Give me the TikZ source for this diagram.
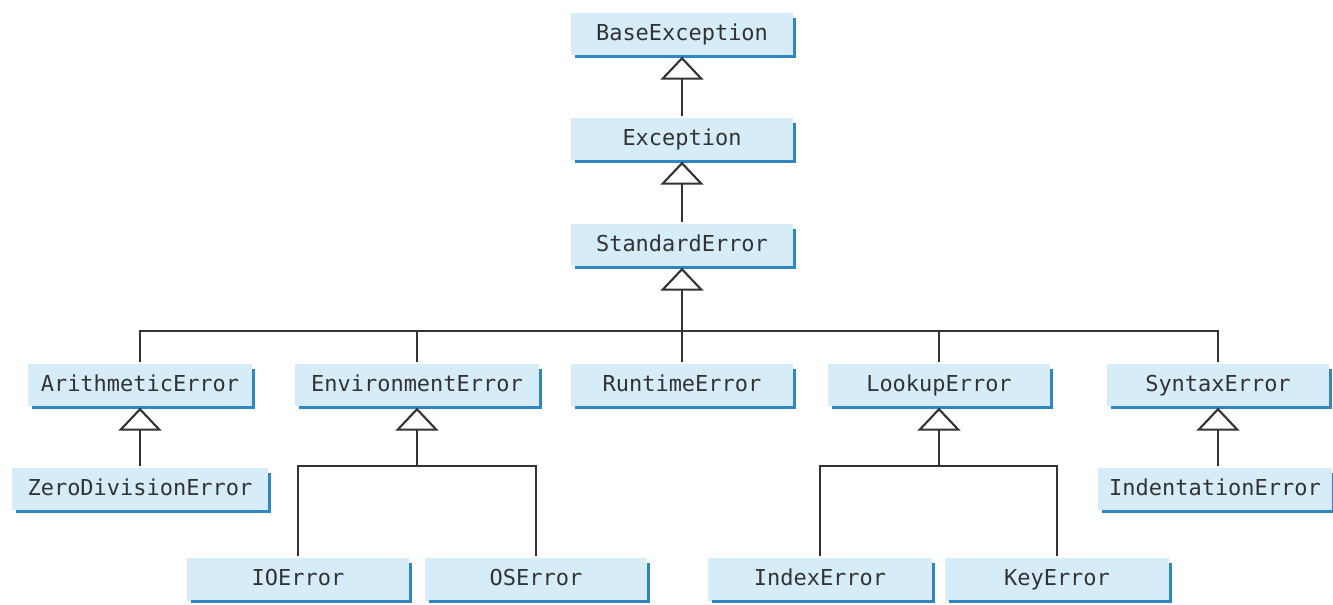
\documentclass[tikz,border=0pt]{standalone}
\usepackage{fontspec}
\setmonofont{DejaVu Sans Mono}
\usepackage{tikz}
\usetikzlibrary{positioning,arrows.meta}
\definecolor{boxfill}{HTML}{D6ECF8}
\definecolor{boxedge}{HTML}{2F86C0}
\definecolor{ink}{HTML}{333333}
\tikzset{
  cls/.style={fill=boxfill, inner sep=0pt, minimum height=0.86cm,
    text height=1.9ex, text depth=0.2ex,
    text=ink, font=\ttfamily\fontsize{12.5}{14}\selectfont},
  inherit/.style={-{Triangle[open, length=0.46cm, width=0.86cm, line width=1.2pt]}},
  edge/.style={draw=boxedge, line width=1.7pt}
}

\begin{document}
\begin{tikzpicture}[x=0.02cm, y=-0.02cm, line width=1.35pt, draw=ink]
		\useasboundingbox (0,0) rectangle (1333,605);

		% the root chain
		\node[cls, minimum width=4.46cm] (base) at (682,34) {BaseException};
		\node[cls, minimum width=4.46cm] (exc) at (682,139) {Exception};
		\node[cls, minimum width=4.46cm] (std) at (682,245) {StandardError};

		% second row
		\node[cls, minimum width=4.48cm] (arith) at (140,385) {ArithmeticError};
		\node[cls, minimum width=4.90cm] (env) at (417,385) {EnvironmentError};
		\node[cls, minimum width=4.46cm] (rt) at (682,385) {RuntimeError};
		\node[cls, minimum width=4.44cm] (look) at (939,385) {LookupError};
		\node[cls, minimum width=4.46cm] (syn) at (1218,385) {SyntaxError};

		% third row
		\node[cls, minimum width=5.12cm] (zero) at (140,489) {ZeroDivisionError};
		\node[cls, minimum width=4.68cm] (indent) at (1215,489) {IndentationError};

		% bottom row
		\node[cls, minimum width=4.46cm] (io) at (298,579) {IOError};
		\node[cls, minimum width=4.46cm] (os) at (536,579) {OSError};
		\node[cls, minimum width=4.50cm] (idx) at (820,579) {IndexError};
		\node[cls, minimum width=4.50cm] (key) at (1057,579) {KeyError};

		% the blue edges under and right of every box
		\foreach \n in {base,exc,std,arith,env,rt,look,syn,zero,indent,io,os,idx,key}
			\draw[edge] ([xshift=3pt]\n.south west) -- (\n.south east) -- ([yshift=-4pt]\n.north east);

		% the coordinates where the branches meet
		\coordinate (hub) at (682,331);
		\coordinate (envhub) at (417,466);
		\coordinate (lookhub) at (939,466);

		% subclass links
		\draw[inherit] (exc.north) -- (base.south);
		\draw[inherit] (std.north) -- (exc.south);
		\draw[inherit] (hub) -- (std.south);
		\draw (arith.north) -- (arith.north |- hub) -- (syn.north |- hub) -- (syn.north);
		\foreach \n in {env,rt,look}
			\draw (\n.north) -- (\n.north |- hub);

		\draw[inherit] (zero.north) -- (arith.south);
		\draw[inherit] (syn.south |- indent.north) -- (syn.south);

		\draw[inherit] (envhub) -- (env.south);
		\draw (io.north) -- (io.north |- envhub) -- (os.north |- envhub) -- (os.north);
		\draw[inherit] (lookhub) -- (look.south);
		\draw (idx.north) -- (idx.north |- lookhub) -- (key.north |- lookhub) -- (key.north);

	\end{tikzpicture}
\end{document}
